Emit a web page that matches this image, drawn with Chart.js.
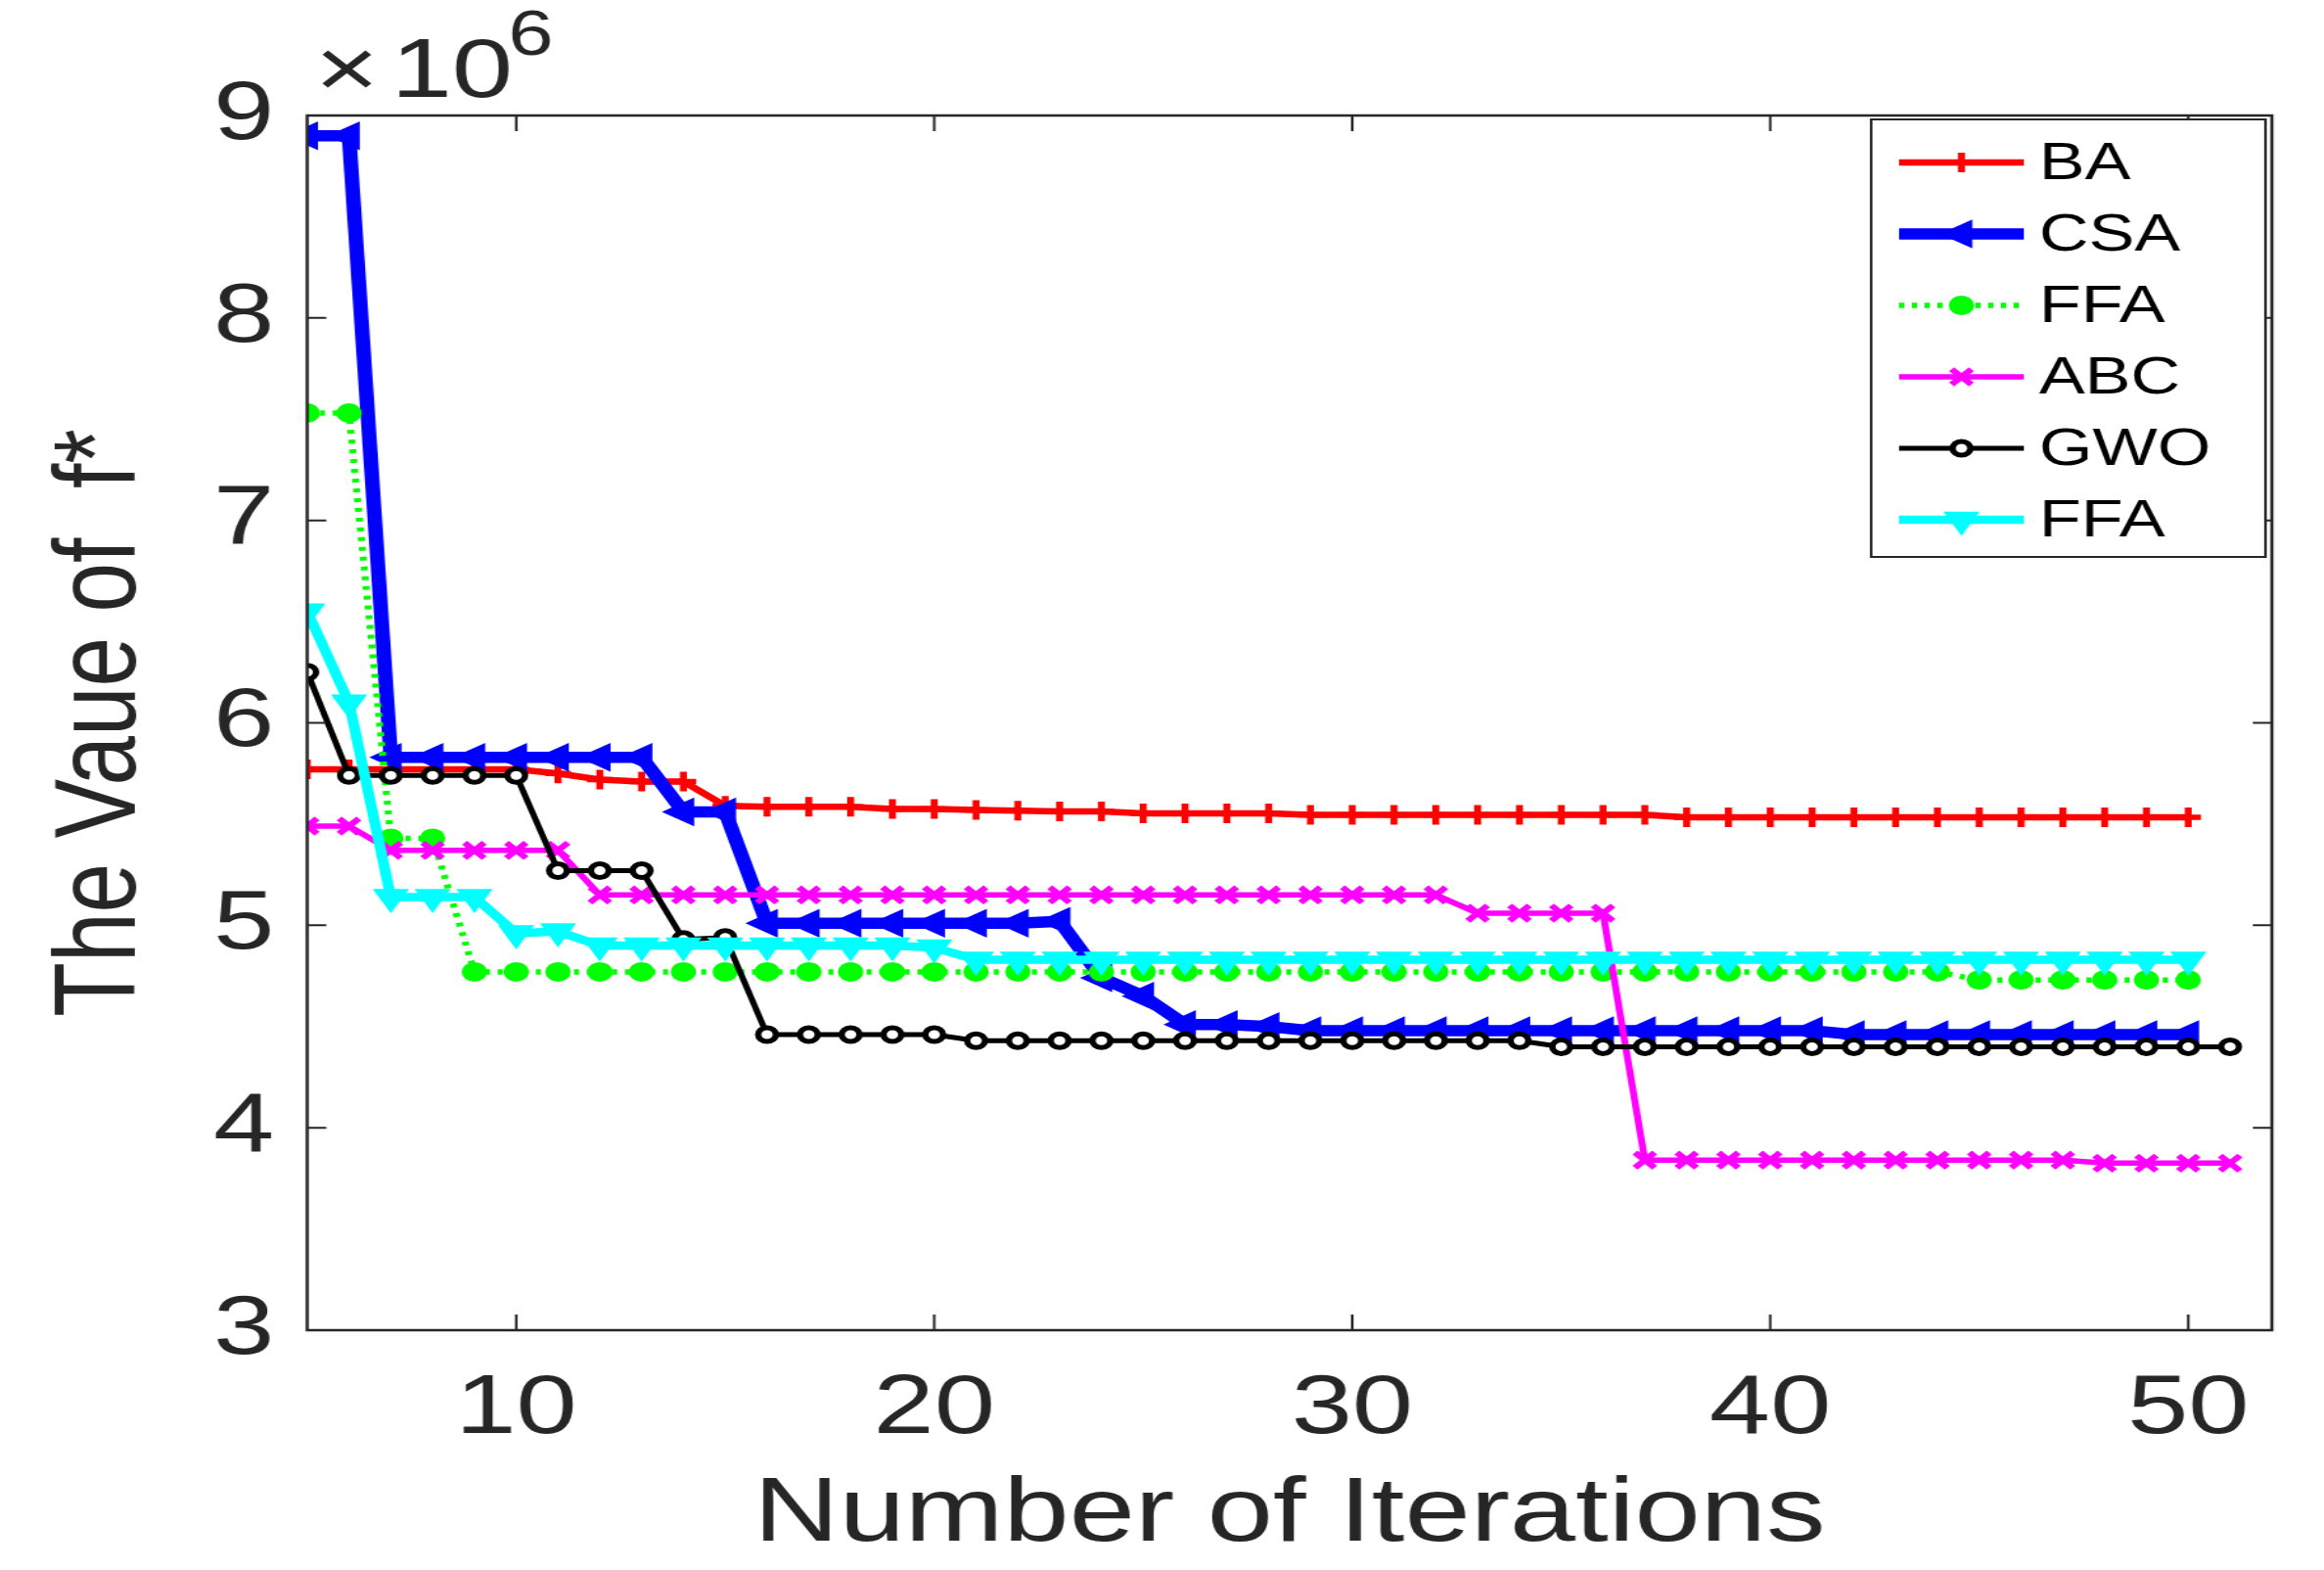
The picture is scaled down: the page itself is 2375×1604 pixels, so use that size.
<!DOCTYPE html>
<html>
<head>
<meta charset="utf-8">
<script src="https://cdn.jsdelivr.net/npm/chart.js@4.4.1/dist/chart.umd.min.js"></script>
<style>
  html, body { margin: 0; padding: 0; background: #fff; overflow: hidden; }
</style>
</head>
<body>
<!-- the figure was exported stretched sideways, so draw narrow and widen with css -->
<canvas id="chart" width="1827" height="1604" style="display:block;width:2375px;height:1604px;"></canvas>
<script>
const iterations = [5, 6, 7, 8, 9, 10, 11, 12, 13, 14, 15, 16, 17, 18, 19, 20,
  21, 22, 23, 24, 25, 26, 27, 28, 29, 30, 31, 32, 33, 34, 35, 36, 37, 38, 39, 40,
  41, 42, 43, 44, 45, 46, 47, 48, 49, 50, 51];
const xTicks = [10, 20, 30, 40, 50];
const yTicks = [3, 4, 5, 6, 7, 8, 9];
const seriesNames = ["BA", "CSA", "FFA", "ABC", "GWO", "FFA"];

// values of f* in units of 1e6
const baValues = [5.77, 5.77, 5.77, 5.77, 5.77, 5.77, 5.75, 5.72, 5.71, 5.71,
  5.59, 5.585, 5.585, 5.585, 5.575, 5.575, 5.57, 5.566, 5.562, 5.562,
  5.553, 5.553, 5.553, 5.553,
  5.545, 5.545, 5.545, 5.545, 5.545, 5.545, 5.545, 5.545, 5.545,
  5.534, 5.534, 5.534, 5.534, 5.534, 5.534, 5.534, 5.534, 5.534, 5.534, 5.534, 5.534, 5.534];
const csaValues = [8.90, 8.90,
  5.83, 5.83, 5.83, 5.83, 5.83, 5.83, 5.83,
  5.56, 5.56,
  5.01, 5.01, 5.01, 5.01, 5.01, 5.01, 5.01,
  5.02, 4.74, 4.65, 4.51, 4.51, 4.50,
  4.48, 4.48, 4.48, 4.48, 4.48, 4.48, 4.48, 4.48, 4.48, 4.48, 4.48, 4.48, 4.48,
  4.46, 4.46, 4.46, 4.46, 4.46, 4.46, 4.46, 4.46, 4.46];
const ffaValues = [7.53, 7.53, 5.43, 5.43,
  4.77, 4.77, 4.77, 4.77, 4.77, 4.77, 4.77, 4.77, 4.77, 4.77, 4.77, 4.77,
  4.77, 4.77, 4.77, 4.77, 4.77, 4.77, 4.77, 4.77, 4.77, 4.77, 4.77, 4.77,
  4.77, 4.77, 4.77, 4.77, 4.77, 4.77, 4.77, 4.77, 4.77, 4.77, 4.77, 4.77,
  4.73, 4.73, 4.73, 4.73, 4.73, 4.73];
const abcValues = [5.49, 5.49,
  5.37, 5.37, 5.37, 5.37, 5.37,
  5.15, 5.15, 5.15, 5.15, 5.15, 5.15, 5.15, 5.15, 5.15, 5.15, 5.15,
  5.15, 5.15, 5.15, 5.15, 5.15, 5.15, 5.15, 5.15, 5.15, 5.15,
  5.06, 5.06, 5.06, 5.06,
  3.84, 3.84, 3.84, 3.84, 3.84, 3.84, 3.84, 3.84, 3.84, 3.84, 3.84,
  3.825, 3.825, 3.825, 3.825];
const gwoValues = [6.25,
  5.74, 5.74, 5.74, 5.74, 5.74,
  5.27, 5.27, 5.27,
  4.93, 4.94,
  4.46, 4.46, 4.46, 4.46, 4.46,
  4.43, 4.43, 4.43, 4.43, 4.43, 4.43, 4.43, 4.43, 4.43, 4.43, 4.43, 4.43, 4.43, 4.43,
  4.40, 4.40, 4.40, 4.40, 4.40, 4.40, 4.40, 4.40, 4.40, 4.40, 4.40, 4.40, 4.40, 4.40,
  4.40, 4.40, 4.40];
const ffa2Values = [6.55, 6.10, 5.14, 5.14, 5.14, 4.96, 4.97,
  4.90, 4.90, 4.90, 4.90, 4.90, 4.90, 4.90, 4.90, 4.89,
  4.83, 4.83, 4.83, 4.83, 4.83, 4.83, 4.83, 4.83, 4.83, 4.83,
  4.83, 4.83, 4.83, 4.83, 4.83, 4.83, 4.83, 4.83, 4.83, 4.83,
  4.83, 4.83, 4.83, 4.83, 4.83, 4.83, 4.83, 4.83, 4.83, 4.83];

const allValues = [baValues, csaValues, ffaValues, abcValues, gwoValues, ffa2Values];

// matlab-ish line specs
const styles = [
  { color: "#ff0000", width: 6.5, dash: [], point: "cross", radius: 10, pw: 5.5, rot: 0, bg: "#ff0000" },
  { color: "#0000ff", width: 11.5, dash: [], point: "triangle", radius: 13, pw: 4, rot: -90, bg: "#0000ff" },
  { color: "#00ff00", width: 5.5, dash: [4, 6], point: "circle", radius: 8.5, pw: 3, rot: 0, bg: "#00ff00" },
  { color: "#ff00ff", width: 5.5, dash: [], point: "crossRot", radius: 11, pw: 5.5, rot: 0, bg: "#ff00ff" },
  { color: "#000000", width: 5, dash: [], point: "circle", radius: 7, pw: 5, rot: 0, bg: "#ffffff" },
  { color: "#00ffff", width: 8.5, dash: [], point: "triangle", radius: 12.5, pw: 4, rot: 180, bg: "#00ffff" },
];

const FONT = "'Liberation Sans', Arial, Helvetica, sans-serif";
const TEXT = "#262626";

const datasets = seriesNames.map((name, i) => {
  const s = styles[i];
  return {
    label: name,
    data: allValues[i].map((v, j) => ({ x: iterations[j], y: v })),
    borderColor: s.color,
    borderWidth: s.width,
    borderDash: s.dash,
    tension: 0,
    fill: false,
    pointStyle: s.point,
    pointRadius: s.radius,
    pointRotation: s.rot,
    pointBorderWidth: s.pw,
    pointBorderColor: s.color,
    pointBackgroundColor: s.bg,
    order: seriesNames.length - i, // later series on top, like matlab
  };
});

// box with inward ticks on all four sides
const boxPlugin = {
  id: "box",
  afterDraw(chart) {
    const { ctx, chartArea: a, scales } = chart;
    ctx.save();
    ctx.strokeStyle = TEXT;
    ctx.lineWidth = 2.5;
    ctx.strokeRect(a.left, a.top, a.right - a.left, a.bottom - a.top);
    ctx.lineWidth = 2;
    ctx.beginPath();
    xTicks.forEach((t) => {
      const px = scales.x.getPixelForValue(t);
      ctx.moveTo(px, a.bottom); ctx.lineTo(px, a.bottom - 16);
      ctx.moveTo(px, a.top); ctx.lineTo(px, a.top + 16);
    });
    yTicks.forEach((t) => {
      const py = scales.y.getPixelForValue(t);
      ctx.moveTo(a.left, py); ctx.lineTo(a.left + 15, py);
      ctx.moveTo(a.right, py); ctx.lineTo(a.right - 15, py);
    });
    ctx.stroke();

    // exponent label
    ctx.fillStyle = TEXT;
    ctx.textBaseline = "alphabetic";
    ctx.textAlign = "left";
    ctx.font = "86px " + FONT;
    ctx.fillText("\u00d7", a.left + 6, 99);
    ctx.fillText("10", a.left + 66, 99);
    ctx.font = "64px " + FONT;
    ctx.fillText("6", a.left + 158, 56);
    ctx.restore();
  },
};

// legend box in the upper right corner
const legendPlugin = {
  id: "matLegend",
  afterDraw(chart) {
    const { ctx, chartArea: a } = chart;
    const right = a.right - 5, top = a.top + 4;
    const left = right - 310, bottom = top + 447;
    ctx.save();
    ctx.fillStyle = "#fff";
    ctx.fillRect(left, top, right - left, bottom - top);
    ctx.strokeStyle = TEXT;
    ctx.lineWidth = 2;
    ctx.strokeRect(left, top, right - left, bottom - top);
    chart.data.datasets.forEach((ds, i) => {
      const s = styles[i];
      const y = top + 44 + i * 73;
      const x0 = left + 22, x1 = left + 120;
      ctx.strokeStyle = s.color;
      ctx.lineWidth = s.width;
      ctx.setLineDash(s.dash);
      ctx.beginPath();
      ctx.moveTo(x0, y); ctx.lineTo(x1, y);
      ctx.stroke();
      ctx.setLineDash([]);
      ctx.fillStyle = s.bg;
      ctx.lineWidth = s.pw;
      Chart.helpers.drawPoint(ctx, { pointStyle: s.point, rotation: s.rot, radius: s.radius, borderWidth: s.pw }, (x0 + x1) / 2, y);
      ctx.fillStyle = "#000";
      ctx.font = "54px " + FONT;
      ctx.textAlign = "left";
      ctx.textBaseline = "middle";
      ctx.fillText(ds.label, left + 132, y + 2);
    });
    ctx.restore();
  },
};

new Chart(document.getElementById("chart"), {
  type: "line",
  data: { datasets: datasets },
  options: {
    responsive: false,
    devicePixelRatio: 1,
    animation: false,
    layout: { padding: { top: 118, right: 41, left: 0, bottom: 0 } },
    plugins: { legend: { display: false }, tooltip: { enabled: false } },
    scales: {
      x: {
        type: "linear",
        min: 5,
        max: 52,
        afterBuildTicks: (scale) => { scale.ticks = xTicks.map((v) => ({ value: v })); },
        afterFit: (scale) => { scale.height = 245; },
        grid: { display: false, drawTicks: false },
        border: { display: false },
        ticks: { color: TEXT, padding: 30, font: { family: FONT, size: 86 } },
        title: {
          display: true,
          text: "Number of Iterations",
          color: TEXT,
          padding: { top: 0, bottom: 0 },
          font: { family: FONT, size: 93 },
        },
      },
      y: {
        min: 3,
        max: 9,
        afterBuildTicks: (scale) => { scale.ticks = yTicks.map((v) => ({ value: v })); },
        afterFit: (scale) => { scale.width = 241.5; },
        grid: { display: false, drawTicks: false },
        border: { display: false },
        ticks: { color: TEXT, padding: 26, font: { family: FONT, size: 86 } },
        title: {
          display: true,
          text: "The Vaue of  f*",
          color: TEXT,
          padding: { top: 26, bottom: 0 },
          font: { family: FONT, size: 91 },
        },
      },
    },
  },
  plugins: [boxPlugin, legendPlugin],
});
</script>
</body>
</html>
